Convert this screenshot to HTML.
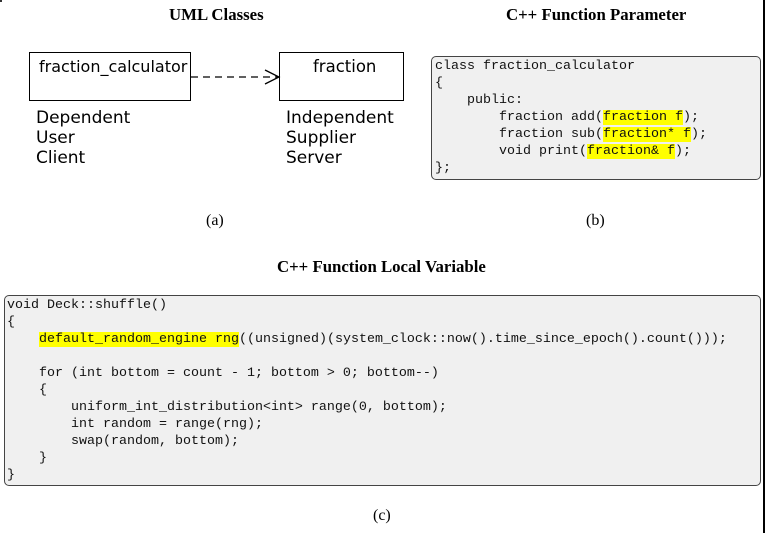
<!DOCTYPE html>
<html><head><meta charset="utf-8"><style>
html,body{margin:0;padding:0;background:#fff;width:767px;height:533px;overflow:hidden;position:relative}
.t{position:absolute;font-family:"Liberation Serif",serif;font-weight:bold;font-size:16.8px;color:#000;white-space:nowrap}
.c{position:absolute;font-family:"Liberation Serif",serif;font-size:16px;white-space:nowrap}
.s{position:absolute;font-family:"DejaVu Sans","Liberation Sans",sans-serif;font-size:17px;line-height:20px;white-space:nowrap}
.box{position:absolute;border:1px solid #000;background:#fff;box-sizing:border-box}
.code{position:absolute;background:#f0f0f0;border:1px solid #444;border-radius:5px;box-sizing:border-box}
pre{margin:0;font-family:"Liberation Mono",monospace;font-size:13.33px;line-height:17px;position:absolute;color:#111}
.h{background:#ffff00}
</style></head><body>
<div style="position:absolute;left:763px;top:0;width:2px;height:533px;background:#000"></div>
<div style="position:absolute;left:0;top:0;width:2px;height:2px;background:#333"></div>

<div class="t" style="left:169px;top:5px">UML Classes</div>
<div class="t" style="left:506px;top:5px">C++ Function Parameter</div>

<div class="box" style="left:29px;top:52px;width:162px;height:49px"></div>
<div class="s" style="left:39px;top:57px;font-size:16px">fraction_calculator</div>
<div class="box" style="left:279px;top:52px;width:125px;height:49px"></div>
<div class="s" style="left:313px;top:57px;font-size:16.5px">fraction</div>
<svg style="position:absolute;left:0;top:0" width="767" height="533">
<line x1="191" y1="77" x2="278" y2="77" stroke="#000" stroke-width="1.3" stroke-dasharray="7,5"/>
<polyline points="265,70 279,77 265,84" fill="none" stroke="#000" stroke-width="1.3"/>
</svg>
<div class="s" style="left:36px;top:108px">Dependent<br>User<br>Client</div>
<div class="s" style="left:286px;top:108px">Independent<br>Supplier<br>Server</div>

<div class="code" style="left:431px;top:56px;width:330px;height:124px"></div>
<pre style="left:435px;top:58px">class fraction_calculator
{
    public:
        fraction add(<span class="h">fraction f</span>);
        fraction sub(<span class="h">fraction* f</span>);
        void print(<span class="h">fraction&amp; f</span>);
};</pre>

<div class="c" style="left:206px;top:212px">(a)</div>
<div class="c" style="left:586px;top:212px">(b)</div>

<div class="t" style="left:277px;top:257px">C++ Function Local Variable</div>

<div class="code" style="left:4px;top:295px;width:757px;height:191px"></div>
<pre style="left:7px;top:297px">void Deck::shuffle()
{
    <span class="h">default_random_engine rng</span>((unsigned)(system_clock::now().time_since_epoch().count()));

    for (int bottom = count - 1; bottom &gt; 0; bottom--)
    {
        uniform_int_distribution&lt;int&gt; range(0, bottom);
        int random = range(rng);
        swap(random, bottom);
    }
}</pre>

<div class="c" style="left:373px;top:507px">(c)</div>
</body></html>
